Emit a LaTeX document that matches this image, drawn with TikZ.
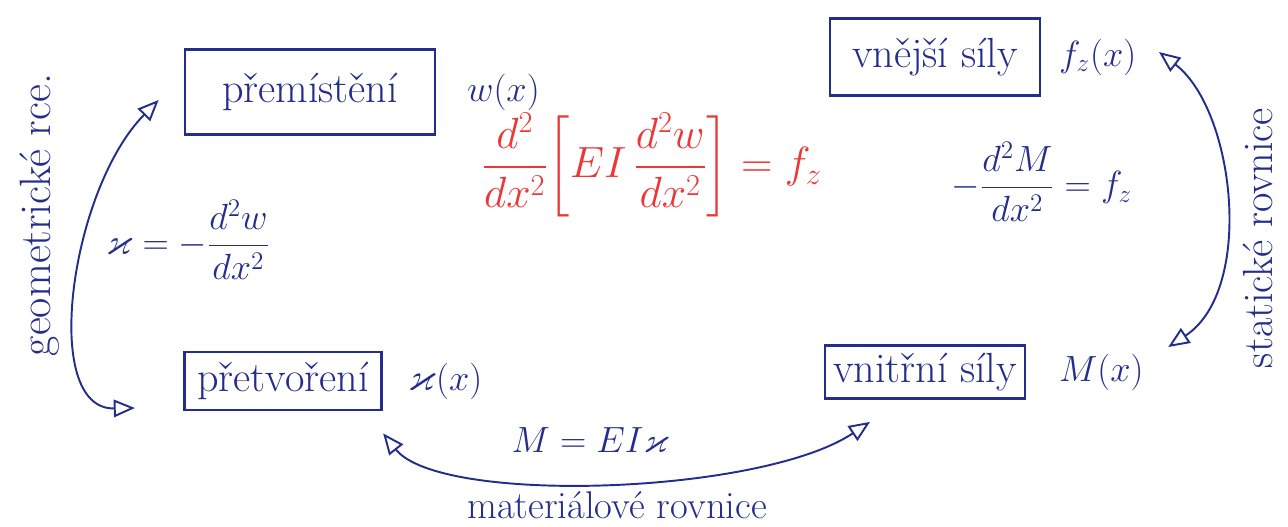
\documentclass[tikz,border=0pt]{standalone}
\usepackage{amsmath,amssymb}
\usetikzlibrary{positioning,calc,arrows.meta}
\definecolor{inkblue}{RGB}{35,45,140}
\definecolor{inkred}{RGB}{235,55,55}

\begin{document}
\begin{tikzpicture}[x=0.02cm, y=-0.02cm, line width=1.1pt, color=inkblue]

% styles for boxes, labels and relation arrows
\tikzset{
  quantity/.style={draw=inkblue, line width=1.6pt, inner sep=2pt, font=\fontsize{24}{28}\selectfont},
  var/.style={font=\fontsize{22}{26}\selectfont, inner sep=1pt},
  eqn/.style={font=\fontsize{21}{25}\selectfont, inner sep=1pt},
  hand/.style={font=\fontsize{22}{26}\selectfont, inner sep=1pt},
  rel/.style={{Triangle[open,length=12pt,width=10pt]}-{Triangle[open,length=12pt,width=10pt]}, line width=1.1pt}
}

\useasboundingbox (0,0) rectangle (1288,527);

% -----------------------------------------
% the four quantities
% -----------------------------------------
\node[quantity, minimum width=5cm, minimum height=1.7cm] (disp) at (310,92) {přemístění};
\node[var, right=0.56cm of disp] (dispvar) {$w(x)$};

\node[quantity, minimum width=4.2cm, minimum height=1.55cm] (load) at (935,57) {vnější síly};
\node[var, right=0.3cm of load] (loadvar) {$f_z(x)$};

\node[quantity, minimum width=3.95cm, minimum height=1.16cm] (strain) at (283,381) {přetvoření};
\node[var, right=0.46cm of strain] (strainvar) {$\varkappa(x)$};

\node[quantity, minimum width=4cm, minimum height=1.06cm] (force) at (925,372) {vnitřní síly};
\node[var, right=0.6cm of force] (forcevar) {$M(x)$};

% -----------------------------------------
% equations
% -----------------------------------------
\node[eqn, text=inkred, font=\fontsize{24}{28}\selectfont] (beam) at (652,165)
  {$\dfrac{d^2}{dx^2}\!\left[EI\,\dfrac{d^2w}{dx^2}\right]=f_z$};
\node[eqn] (geomeq) at (188,240) {$\varkappa=-\dfrac{d^2w}{dx^2}$};
\node[eqn] (staticeq) at (1042,182) {$-\dfrac{d^2M}{dx^2}=f_z$};
\node[eqn, font=\fontsize{20}{24}\selectfont] (mateq) at (590,440) {$M=EI\varkappa$};

% -----------------------------------------
% relations
% -----------------------------------------
\coordinate (g1) at ($(disp.west)+(-25,8)$);
\coordinate (g2) at ($(strain.west)+(-48,27)$);
\draw[rel] (g1) .. controls (70,190) and (40,410) .. (g2);
\node[hand, rotate=90, font=\fontsize{25}{29}\selectfont] (geomlbl) at (40,215) {geometrické rce.};

\coordinate (m1) at ($(strain.south east)+(0,22)$);
\coordinate (m2) at ($(force.south)+(-55,22)$);
\draw[rel] (m1) .. controls (440,505) and (760,495) .. (m2);
\node[hand] (matlbl) at (617,505) {materiálové rovnice};

\coordinate (s1) at ($(loadvar.east)+(20,-5)$);
\coordinate (s2) at ($(forcevar.east)+(22,-25)$);
\draw[rel] (s1) .. controls (1235,110) and (1255,290) .. (s2);
\node[hand, rotate=90, font=\fontsize{24}{28}\selectfont] (statlbl) at (1258,238) {statické rovnice};

\end{tikzpicture}
\end{document}
